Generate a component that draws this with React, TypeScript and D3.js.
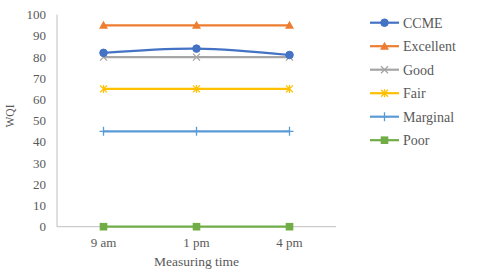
import React from "react";
import * as d3 from "d3";

const categories = ["9 am", "1 pm", "4 pm"];
const seriesNames = ["CCME", "Excellent", "Good", "Fair", "Marginal", "Poor"];
const ccme = [82, 84, 81];
const excellent = [95, 95, 95];
const good = [80, 80, 80];
const fair = [65, 65, 65];
const marginal = [45, 45, 45];
const poor = [0, 0, 0];
const yTicks = [0, 10, 20, 30, 40, 50, 60, 70, 80, 90, 100];

const seriesValues = [ccme, excellent, good, fair, marginal, poor];
const colors = ["#4472C4", "#ED7D31", "#A5A5A5", "#FFC000", "#5B9BD5", "#70AD47"];
const markers = ["circle", "triangle", "x", "star", "plus", "square"];

const FONT = "'Liberation Serif', 'Times New Roman', serif";
const TEXT = "#595959";

function Marker({ type, x, y, color }: { type: string; x: number; y: number; color: string }) {
  switch (type) {
    case "circle":
      return <circle cx={x} cy={y} r={3.8} fill={color} stroke={color} />;
    case "triangle":
      return <path d={`M${x},${y - 4.5}L${x + 4.5},${y + 3.5}L${x - 4.5},${y + 3.5}Z`} fill={color} />;
    case "x":
      return (
        <path d={`M${x - 3.5},${y - 3.5}L${x + 3.5},${y + 3.5}M${x - 3.5},${y + 3.5}L${x + 3.5},${y - 3.5}`} stroke={color} strokeWidth={1.3} />
      );
    case "star":
      return (
        <path
          d={`M${x - 3.5},${y - 3.5}L${x + 3.5},${y + 3.5}M${x - 3.5},${y + 3.5}L${x + 3.5},${y - 3.5}M${x},${y - 4}L${x},${y + 4}`}
          stroke={color}
          strokeWidth={1.3}
        />
      );
    case "plus":
      return <path d={`M${x},${y - 4.5}L${x},${y + 4.5}M${x - 4},${y}L${x + 4},${y}`} stroke={color} strokeWidth={1.3} />;
    case "square":
      return <rect x={x - 3.8} y={y - 3.8} width={7.6} height={7.6} fill={color} />;
    default:
      return null;
  }
}

export default function App() {
  const width = 480;
  const height = 275;
  const left = 57;
  const right = 336;
  const top = 14.7;
  const bottom = 226.7;

  const x = d3.scalePoint<string>().domain(categories).range([left, right]).padding(0.5);
  const y = d3.scaleLinear().domain([0, 100]).range([bottom, top]);

  const straight = d3
    .line<number>()
    .x((_, i) => x(categories[i]) as number)
    .y((d) => y(d));
  const smooth = d3
    .line<number>()
    .x((_, i) => x(categories[i]) as number)
    .y((d) => y(d))
    .curve(d3.curveCatmullRom.alpha(0.5));

  const legendX0 = 370;
  const legendX1 = 399;
  const legendY0 = 22.7;
  const legendStep = 23.5;

  return (
    <div style={{ position: "absolute", left: 0, top: 0 }}>
      <svg width={width} height={height} style={{ display: "block", background: "#fff" }}>
        <line x1={left} x2={left} y1={top} y2={bottom} stroke="#BFBFBF" strokeWidth={1} />
        <line x1={left} x2={right} y1={bottom} y2={bottom} stroke="#BFBFBF" strokeWidth={1} />
        {yTicks.map((t) => (
          <text key={t} x={46} y={y(t)} dy="0.35em" textAnchor="end" fontFamily={FONT} fontSize={13} fill={TEXT}>
            {t}
          </text>
        ))}
        {categories.map((c) => (
          <text key={c} x={x(c)} y={247} textAnchor="middle" fontFamily={FONT} fontSize={13} fill={TEXT}>
            {c}
          </text>
        ))}
        <text x={(left + right) / 2} y={266} textAnchor="middle" fontFamily={FONT} fontSize={13.5} fill={TEXT}>
          Measuring time
        </text>
        <text
          transform={`translate(14,116) rotate(-90)`}
          textAnchor="middle"
          fontFamily={FONT}
          fontSize={11.5}
          fill={TEXT}
        >
          WQI
        </text>

        {seriesValues
          .map((vals, si) => ({ vals, si }))
          .reverse()
          .map(({ vals, si }) => (
            <g key={seriesNames[si]}>
              <path
                d={(si === 0 ? smooth : straight)(vals) || ""}
                fill="none"
                stroke={colors[si]}
                strokeWidth={2.2}
              />
              {vals.map((v, i) => (
                <Marker key={i} type={markers[si]} x={x(categories[i]) as number} y={y(v)} color={colors[si]} />
              ))}
            </g>
          ))}

        {seriesNames.map((n, si) => {
          const ly = legendY0 + si * legendStep;
          return (
            <g key={n}>
              <line x1={legendX0} x2={legendX1} y1={ly} y2={ly} stroke={colors[si]} strokeWidth={2.2} />
              <Marker type={markers[si]} x={(legendX0 + legendX1) / 2} y={ly} color={colors[si]} />
              <text x={403} y={ly} dy="0.35em" fontFamily={FONT} fontSize={14} fill={TEXT}>
                {n}
              </text>
            </g>
          );
        })}
      </svg>
    </div>
  );
}
